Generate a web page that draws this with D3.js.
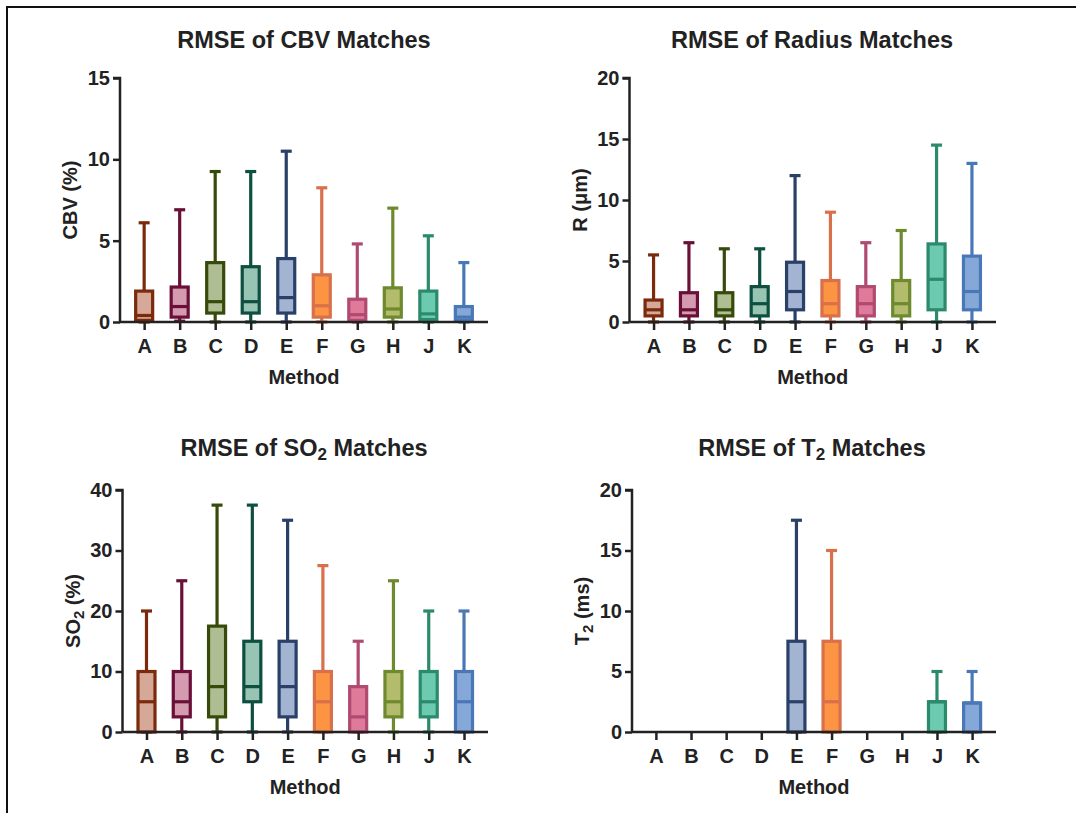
<!DOCTYPE html>
<html>
<head>
<meta charset="utf-8">
<script src="https://cdn.jsdelivr.net/npm/d3@7"></script>
<style>
  html, body { margin: 0; padding: 0; background: #fff; }
  svg text { font-family: "Liberation Sans", Arial, sans-serif; font-weight: bold; fill: #222; }
</style>
</head>
<body>
<svg id="chart" width="1076" height="813"></svg>
<script>
// Method labels shared by all four panels
const methods = ["A", "B", "C", "D", "E", "F", "G", "H", "J", "K"];

// Box statistics per method: [min, q1, median, q3, max]; null = no data
const cbvStats = [
  [0, 0.1, 0.4, 1.9, 6.1],
  [0.05, 0.3, 0.95, 2.15, 6.9],
  [0, 0.55, 1.25, 3.65, 9.25],
  [0, 0.55, 1.25, 3.4, 9.25],
  [0, 0.55, 1.5, 3.9, 10.5],
  [0, 0.3, 1.0, 2.9, 8.25],
  [0, 0.1, 0.45, 1.4, 4.8],
  [0, 0.3, 0.8, 2.1, 7.0],
  [0, 0.15, 0.5, 1.9, 5.3],
  [0, 0.1, 0.3, 0.95, 3.65]
];
const radiusStats = [
  [0, 0.5, 1.0, 1.8, 5.5],
  [0, 0.5, 1.0, 2.4, 6.5],
  [0, 0.5, 1.0, 2.4, 6.0],
  [0, 0.5, 1.5, 2.9, 6.0],
  [0, 1.0, 2.5, 4.9, 12.0],
  [0, 0.5, 1.5, 3.4, 9.0],
  [0, 0.5, 1.5, 2.9, 6.5],
  [0, 0.5, 1.5, 3.4, 7.5],
  [0, 1.0, 3.5, 6.4, 14.5],
  [0, 1.0, 2.5, 5.4, 13.0]
];
const so2Stats = [
  [0, 0, 5, 10, 20],
  [0, 2.5, 5, 10, 25],
  [0, 2.5, 7.5, 17.5, 37.5],
  [0, 5, 7.5, 15, 37.5],
  [0, 2.5, 7.5, 15, 35],
  [0, 0, 5, 10, 27.5],
  [0, 0, 2.5, 7.5, 15],
  [0, 2.5, 5, 10, 25],
  [0, 2.5, 5, 10, 20],
  [0, 0, 5, 10, 20]
];
const t2Stats = [
  null, null, null, null,
  [0, 0, 2.5, 7.5, 17.5],
  [0, 0, 2.5, 7.5, 15],
  null, null,
  [0, 0, 2.5, 2.5, 5],
  [0, 0, 2.4, 2.4, 5]
];

// Axis tick values per panel
const cbvTicks = [0, 5, 10, 15];
const radiusTicks = [0, 5, 10, 15, 20];
const so2Ticks = [0, 10, 20, 30, 40];
const t2Ticks = [0, 5, 10, 15, 20];

// Outline and fill colours per method
const strokeColors = ["#7b2a0c", "#6a1038", "#364a0a", "#0e5040", "#2a4068",
                      "#d8704c", "#b04a70", "#6e8a2e", "#2c8a6c", "#4a78b6"];
const fillColors   = ["#d6a898", "#d49ab0", "#afbd92", "#98c4b4", "#a2b4d2",
                      "#fd9444", "#e07a9a", "#b2bc6c", "#6ccab0", "#86a8d8"];

const svg = d3.select("#chart");

// Outer frame (top and left edges)
svg.append("path")
  .attr("d", "M7,813 L7,7 L1076,7")
  .attr("fill", "none")
  .attr("stroke", "#111")
  .attr("stroke-width", 2);

const panels = [
  { title: ["RMSE of CBV Matches"], ylabel: ["CBV (%)"], stats: cbvStats, ticks: cbvTicks,
    x0: 120, x1: 488, yTop: 78, yBottom: 322, titleX: 304, titleY: 48 },
  { title: ["RMSE of Radius Matches"], ylabel: ["R (μm)"], stats: radiusStats, ticks: radiusTicks,
    x0: 629.5, x1: 996, yTop: 78, yBottom: 322, titleX: 812, titleY: 48 },
  { title: ["RMSE of SO", "2", " Matches"], ylabel: ["SO", "2", " (%)"], stats: so2Stats, ticks: so2Ticks,
    x0: 122.5, x1: 488, yTop: 490, yBottom: 732, titleX: 304, titleY: 456 },
  { title: ["RMSE of T", "2", " Matches"], ylabel: ["T", "2", " (ms)"], stats: t2Stats, ticks: t2Ticks,
    x0: 632, x1: 996, yTop: 490, yBottom: 732, titleX: 812, titleY: 456 }
];

// Writes text parts where every second part is a subscript
function writeParts(textSel, parts, subSize) {
  parts.forEach((p, i) => {
    if (i % 2 === 1) {
      textSel.append("tspan").attr("baseline-shift", "-25%").attr("font-size", subSize).text(p);
    } else {
      textSel.append("tspan").text(p);
    }
  });
}

panels.forEach(p => {
  const g = svg.append("g");
  const yMax = p.ticks[p.ticks.length - 1];
  const y = d3.scaleLinear().domain([0, yMax]).range([p.yBottom, p.yTop]);
  const x = d3.scalePoint().domain(methods).range([p.x0, p.x1]).padding(0.68);

  // Title
  const t = g.append("text")
    .attr("x", p.titleX).attr("y", p.titleY)
    .attr("text-anchor", "middle")
    .attr("font-size", 23.5);
  writeParts(t, p.title, 17);

  // Y axis
  const yAxis = g.append("g")
    .attr("transform", `translate(${p.x0},0)`)
    .call(d3.axisLeft(y).tickValues(p.ticks).tickSize(7).tickPadding(3).tickFormat(d3.format("d")));
  yAxis.select(".domain").attr("d", `M-7,${p.yTop}H0V${p.yBottom}`);

  // X axis
  const xAxis = g.append("g")
    .attr("transform", `translate(0,${p.yBottom})`)
    .call(d3.axisBottom(x).tickSize(8).tickPadding(9));
  xAxis.select(".domain").attr("d", `M${p.x0},0H${p.x1}`);

  [yAxis, xAxis].forEach(ax => {
    ax.select(".domain").attr("stroke", "#222").attr("stroke-width", 2.5).attr("fill", "none");
    ax.selectAll(".tick line").attr("stroke", "#222").attr("stroke-width", 2.5);
    ax.selectAll(".tick text").attr("font-size", 20).attr("font-family", null).attr("fill", "#222");
  });

  // Axis titles
  g.append("text")
    .attr("x", (p.x0 + p.x1) / 2)
    .attr("y", p.yBottom + 62)
    .attr("text-anchor", "middle")
    .attr("font-size", 20)
    .text("Method");

  const yl = g.append("text")
    .attr("transform", `translate(${p.x0 - 43},${(p.yTop + p.yBottom) / 2}) rotate(-90)`)
    .attr("text-anchor", "middle")
    .attr("font-size", 20);
  writeParts(yl, p.ylabel, 15);

  // Box plots
  const boxW = 17, capW = 11;
  const boxes = g.append("g").selectAll("g.box")
    .data(p.stats.map((s, i) => ({ s, i })).filter(d => d.s !== null))
    .join("g")
    .attr("class", "box");

  boxes.each(function (d) {
    const b = d3.select(this);
    const cx = x(methods[d.i]);
    const [mn, q1, med, q3, mx] = d.s;
    const col = strokeColors[d.i];
    // Whiskers
    b.append("line").attr("x1", cx).attr("x2", cx).attr("y1", y(mx)).attr("y2", y(q3))
      .attr("stroke", col).attr("stroke-width", 3.2);
    b.append("line").attr("x1", cx).attr("x2", cx).attr("y1", y(q1)).attr("y2", y(mn))
      .attr("stroke", col).attr("stroke-width", 3.2);
    // Caps
    [mx, mn].forEach(v => {
      b.append("line").attr("x1", cx - capW / 2).attr("x2", cx + capW / 2)
        .attr("y1", y(v)).attr("y2", y(v))
        .attr("stroke", col).attr("stroke-width", 3.2);
    });
    // Box
    b.append("rect")
      .attr("x", cx - boxW / 2).attr("width", boxW)
      .attr("y", y(q3)).attr("height", Math.max(0, y(q1) - y(q3)))
      .attr("fill", fillColors[d.i])
      .attr("stroke", col).attr("stroke-width", 3.2);
    // Median
    b.append("line").attr("x1", cx - boxW / 2).attr("x2", cx + boxW / 2)
      .attr("y1", y(med)).attr("y2", y(med))
      .attr("stroke", col).attr("stroke-width", 3.2);
  });

  // Keep the x axis baseline on top of box bottoms
  xAxis.raise();
});
</script>
</body>
</html>
